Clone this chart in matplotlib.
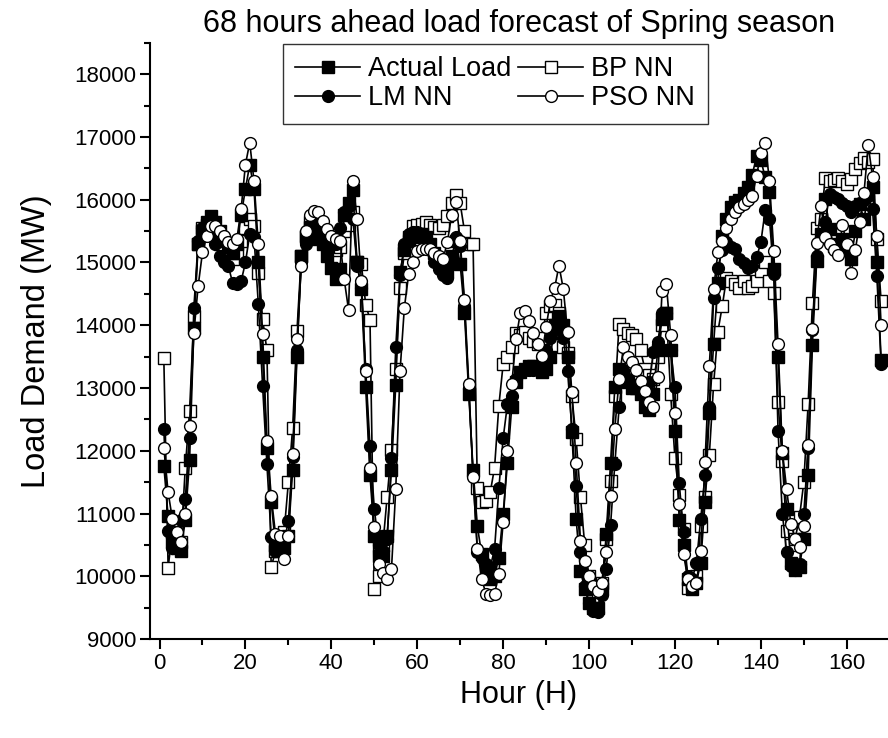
import matplotlib
matplotlib.use("Agg")
import matplotlib.pyplot as plt
from matplotlib.ticker import MultipleLocator

# ── Data (hourly, 1..168) ──────────────────────────────────────────────────────
hours = list(range(1, 169))

actual_load = [
    11760, 10960, 10550, 10450, 10400, 10900, 11850, 13950, 15300, 15500, 15650, 15740,
    15650, 15500, 15350, 15250, 15150, 15300, 15750, 16170, 16560, 16170, 15000, 13500,
    12050, 11180, 10500, 10400, 10450, 10650, 11700, 13500, 15110, 15420, 15560, 15480,
    15380, 15290, 15100, 14910, 14730, 14900, 15750, 15940, 16150, 15000, 14570, 13010,
    11610, 10650, 10330, 10330, 10650, 11700, 13050, 14850, 15200, 15350, 15400, 15450,
    15450, 15400, 15300, 15150, 15000, 14900, 14850, 15100, 15350, 14970, 14200, 12900,
    11700, 10800, 10350, 10100, 9950, 10000, 10300, 11000, 11800, 12700, 13100, 13250,
    13300, 13350, 13350, 13300, 13250, 13300, 13500, 14000, 14150, 14000, 13500, 12300,
    10910, 10090, 9800, 9580, 9500, 9500, 9800, 10670, 11800, 13010, 13300, 13200,
    13100, 13000, 13000, 12900, 12700, 12650, 12900, 13600, 14100, 14200, 13600, 12320,
    10900, 10500, 9950, 9800, 9900, 10220, 11190, 12600, 13700, 14680, 15420, 15700,
    15880, 15960, 16000, 16100, 16200, 16400, 16690, 16630, 16360, 16120, 14890, 13490,
    11960, 11080, 10220, 10100, 10150, 10600, 11610, 13690, 15030, 15450, 16010, 15530,
    15270, 15300, 15370, 15200, 15050, 15500, 15930, 15690, 16090, 16200, 15000, 13450,
]

bp_nn = [
    13480, 10140, 10700, 10600, 10550, 11730, 12640, 14150, 15300, 15550, 15600, 15550,
    15450, 15300, 15200, 15100, 15050, 15150, 15350, 15550, 15700, 15580, 14840, 14100,
    13600, 10150, 10400, 10500, 10700, 11500, 12370, 13910, 15100, 15400, 15650, 15700,
    15650, 15500, 15350, 15300, 15200, 15250, 15500, 15600, 15800, 15000, 14970, 14330,
    14090, 9800, 10000, 10500, 11270, 12020, 13300, 14590, 15150, 15400, 15580, 15600,
    15620, 15640, 15600, 15560, 15550, 15600, 15740, 15950, 16070, 15940, 15500, 15300,
    15290, 11400, 11180, 11200, 11340, 11730, 12720, 13380, 13500, 13660, 13870, 13850,
    13900, 13800, 13750, 13700, 13800, 14200, 14300, 14330, 14200, 13650, 13560, 12880,
    12190, 11260, 10500, 10000, 9800, 9750, 9900, 10600, 11520, 12880, 14020, 13940,
    13880, 13850, 13780, 13600, 13300, 13200, 13150, 13500, 14000, 14200, 12900, 11880,
    11290, 10760, 9820, 9900, 10000, 10800, 11270, 11930, 13060, 13900, 14300, 14750,
    14700, 14650, 14600, 14700, 14590, 14620, 14700, 14860, 15000, 14700, 14510, 12770,
    11830, 10720, 10500, 10600, 10950, 11500, 12740, 14350, 15550, 15690, 16350, 16300,
    16320, 16350, 16300, 16250, 16330, 16490, 16590, 16670, 16600, 16650, 15370, 14390,
]

lm_nn = [
    12350, 10730, 10450, 10650, 10900, 11230, 12200, 14280, 15350, 15550, 15600, 15550,
    15300, 15100, 15000, 14950, 14680, 14650, 14700, 15000, 15450, 15400, 14340, 13030,
    11790, 10620, 10400, 10450, 10550, 10880, 11900, 13600, 15000, 15290, 15550, 15650,
    15550, 15450, 15350, 15300, 15300, 15550, 15800, 15900, 15700, 14950, 14600, 13300,
    12070, 11080, 10500, 10400, 10600, 11880, 13650, 14800, 15300, 15450, 15480, 15480,
    15450, 15350, 15200, 15000, 14890, 14800, 14760, 15000, 15400, 15270, 14300, 13000,
    11600, 10390, 10300, 10200, 10150, 10430, 11400, 12200, 12740, 12880, 13140, 13250,
    13280, 13280, 13280, 13300, 13490, 13600, 13800, 13930, 14110, 13800, 13270, 12350,
    11440, 10380, 9850, 9580, 9450, 9430, 9700, 10120, 10810, 11790, 12690, 13280,
    13150, 13050, 13050, 13000, 13050, 13100, 13570, 13730, 14200, 14200, 13600, 13010,
    11480, 10700, 10000, 9950, 10220, 10920, 11610, 12690, 14430, 14920, 15200, 15320,
    15250, 15210, 15050, 14990, 14910, 14950, 15080, 15320, 15830, 15700, 14810, 12320,
    11000, 10390, 10160, 10100, 10200, 11000, 12040, 13920, 15100, 15400, 15640, 16090,
    16050, 16010, 15950, 15900, 15800, 15900, 15950, 16000, 16060, 15850, 14790, 13380,
]

pso_nn = [
    12050, 11340, 10910, 10700, 10540, 10990, 12400, 13880, 14630, 15160, 15420, 15580,
    15580, 15500, 15420, 15320, 15300, 15370, 15850, 16560, 16910, 16300, 15290, 13860,
    12160, 11280, 10670, 10650, 10270, 10650, 11950, 13780, 14950, 15500, 15750, 15820,
    15800, 15660, 15530, 15420, 15380, 15350, 14730, 14250, 16300, 15690, 14710, 13270,
    11730, 10780, 10190, 10060, 9960, 10110, 11390, 13270, 14280, 14810, 15000, 15190,
    15210, 15210, 15210, 15150, 15100, 15050, 15320, 15750, 15960, 15350, 14400, 13060,
    11580, 10430, 9960, 9720, 9700, 9720, 10040, 10860, 12000, 13060, 13780, 14200,
    14230, 14070, 13880, 13700, 13510, 13970, 14390, 14600, 14950, 14580, 13890, 12930,
    11810, 10570, 10250, 10010, 9850, 9770, 9900, 10380, 11280, 12350, 13140, 13650,
    13490, 13410, 13280, 13120, 12960, 12780, 12700, 13170, 14540, 14650, 13850, 12600,
    11150, 10350, 9960, 9850, 9900, 10400, 11820, 13350, 14580, 15160, 15350, 15550,
    15690, 15800, 15880, 15930, 16000, 16060, 16380, 16750, 16910, 16300, 15190, 13700,
    12000, 11390, 10830, 10600, 10460, 10800, 12100, 13940, 15310, 15900, 15400, 15300,
    15200, 15120, 15590, 15300, 14830, 15200, 15640, 16100, 16870, 16360, 15420, 14000,
]

plt.rcParams["font.family"] = ["Liberation Sans", "DejaVu Sans"]

fig = plt.figure(figsize=(8.88, 7.38), dpi=100)
ax = fig.add_axes([0.169, 0.134, 0.831, 0.808])

line_kw = dict(color="black", linewidth=1.2, markersize=8.5, markeredgewidth=1.0,
               markeredgecolor="black")

# draw order: BP behind, PSO on top
h_bp, = ax.plot(hours, bp_nn, marker="s", markerfacecolor="white", label="BP NN", **line_kw)
h_act, = ax.plot(hours, actual_load, marker="s", markerfacecolor="black", label="Actual Load", **line_kw)
h_lm, = ax.plot(hours, lm_nn, marker="o", markerfacecolor="black", label="LM NN", **line_kw)
h_pso, = ax.plot(hours, pso_nn, marker="o", markerfacecolor="white", label="PSO NN", **line_kw)

ax.set_xlim(-2.2, 169.6)
ax.set_ylim(9000, 18500)
ax.xaxis.set_major_locator(MultipleLocator(20))
ax.xaxis.set_minor_locator(MultipleLocator(10))
ax.yaxis.set_major_locator(MultipleLocator(1000))
ax.yaxis.set_minor_locator(MultipleLocator(500))

for side in ("top", "right"):
    ax.spines[side].set_visible(False)
for side in ("left", "bottom"):
    ax.spines[side].set_linewidth(1.5)

ax.tick_params(which="major", direction="out", length=7, width=1.5, labelsize=16, pad=3)
ax.tick_params(which="minor", direction="out", length=4, width=1.5)

ax.set_title("68 hours ahead load forecast of Spring season", fontsize=22, pad=8)
ax.set_xlabel("Hour (H)", fontsize=22, labelpad=4)
ax.set_ylabel("Load Demand (MW)", fontsize=23.5, labelpad=16)

leg = ax.legend([h_act, h_lm, h_bp, h_pso],
                ["Actual Load", "LM NN", "BP NN", "PSO NN"],
                ncol=2, loc="upper left", bbox_to_anchor=(0.18, 0.998),
                fontsize=19.5, frameon=True, fancybox=False, edgecolor="black",
                handlelength=2.4, handletextpad=0.3, columnspacing=0.25,
                labelspacing=0.12, borderpad=0.45, borderaxespad=0)
leg.get_frame().set_linewidth(1.0)

fig.savefig("out.png", dpi=100, facecolor="white")
